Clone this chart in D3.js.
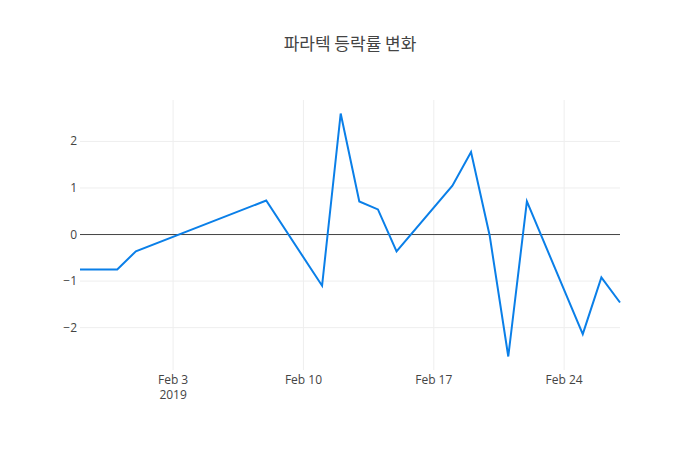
<!DOCTYPE html>
<html>
<head>
<meta charset="utf-8">
<script src="https://cdn.jsdelivr.net/npm/d3@7"></script>
<style>
  body { margin: 0; background: #fff; font-family: "Open Sans", "Noto Sans CJK KR", sans-serif; }
</style>
</head>
<body>
<script>
  var w = 700, h = 450;
  var margin = {top: 100, right: 80, bottom: 80, left: 80};

  var dates = ["2019-01-29", "2019-01-31", "2019-02-01", "2019-02-08", "2019-02-11",
    "2019-02-12", "2019-02-13", "2019-02-14", "2019-02-15", "2019-02-18", "2019-02-19",
    "2019-02-20", "2019-02-21", "2019-02-22", "2019-02-25", "2019-02-26", "2019-02-27"];
  var changes = [-0.75, -0.75, -0.36, 0.73, -1.1, 2.6, 0.71, 0.54, -0.36, 1.05, 1.77,
    -0.02, -2.62, 0.71, -2.14, -0.92, -1.46];
  var yTicks = [-2, -1, 0, 1, 2];
  var xTicks = ["2019-02-03", "2019-02-10", "2019-02-17", "2019-02-24"];

  var parse = d3.utcParse("%Y-%m-%d");
  var data = dates.map(function(d, i) { return {date: parse(d), v: changes[i]}; });

  var svg = d3.select("body").append("svg").attr("width", w).attr("height", h);

  var x = d3.scaleUtc()
    .domain(d3.extent(data, function(d) { return d.date; }))
    .range([margin.left, w - margin.right]);
  var y = d3.scaleLinear()
    .domain([-2.91, 2.89])
    .range([h - margin.bottom, margin.top]);

  // grid
  svg.append("g").selectAll("line").data(xTicks).enter().append("line")
    .attr("x1", function(d) { return x(parse(d)); })
    .attr("x2", function(d) { return x(parse(d)); })
    .attr("y1", margin.top).attr("y2", h - margin.bottom)
    .attr("stroke", "#eee");
  svg.append("g").selectAll("line").data(yTicks).enter().append("line")
    .attr("x1", margin.left).attr("x2", w - margin.right)
    .attr("y1", function(d) { return y(d); })
    .attr("y2", function(d) { return y(d); })
    .attr("stroke", function(d) { return d === 0 ? "#444" : "#eee"; });

  // tick labels
  svg.append("g").selectAll("text").data(yTicks).enter().append("text")
    .attr("x", margin.left - 3).attr("y", function(d) { return y(d) + 4; })
    .attr("text-anchor", "end").attr("font-size", 12).attr("fill", "#444")
    .text(function(d) { return d < 0 ? "\u2212" + Math.abs(d) : d; });
  svg.append("g").selectAll("text").data(xTicks).enter().append("text")
    .attr("x", function(d) { return x(parse(d)); })
    .attr("y", h - margin.bottom + 14)
    .attr("text-anchor", "middle").attr("font-size", 12).attr("fill", "#444")
    .text(function(d) { return d3.utcFormat("%b %-d")(parse(d)); });
  svg.append("text")
    .attr("x", x(parse(xTicks[0]))).attr("y", h - margin.bottom + 29)
    .attr("text-anchor", "middle").attr("font-size", 12).attr("fill", "#444")
    .text("2019");

  var line = d3.line()
    .x(function(d) { return x(d.date); })
    .y(function(d) { return y(d.v); });

  svg.append("path").datum(data)
    .attr("d", line)
    .attr("fill", "none")
    .attr("stroke", "#0a7fe8")
    .attr("stroke-width", 2);

  svg.append("text")
    .attr("x", w / 2).attr("y", 50)
    .attr("text-anchor", "middle")
    .attr("font-size", 17).attr("fill", "#444")
    .attr("font-family", "'Noto Sans CJK KR', sans-serif")
    .text("파라텍 등락률 변화");
</script>
</body>
</html>
